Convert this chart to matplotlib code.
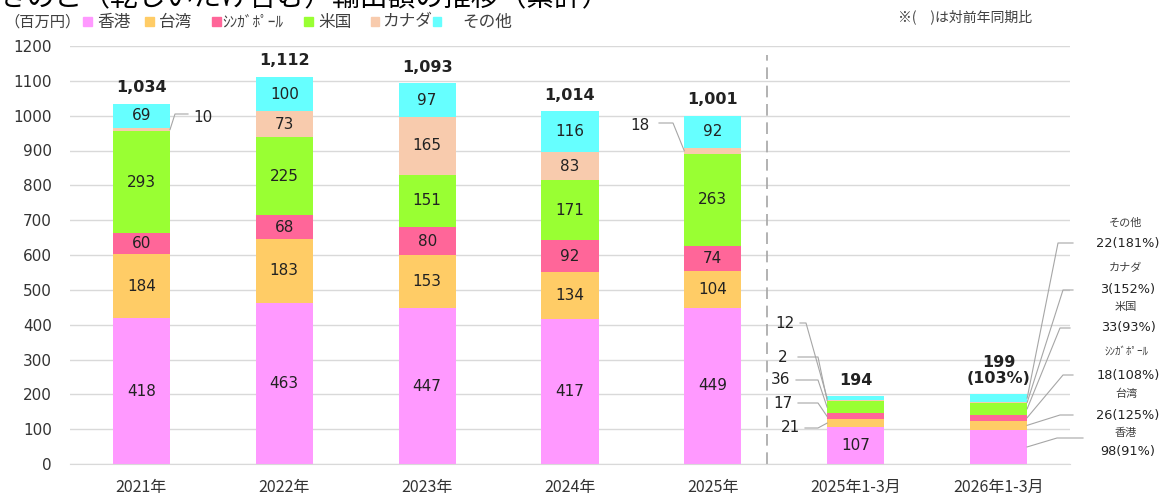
import matplotlib
matplotlib.use("Agg")
import matplotlib.pyplot as plt
from matplotlib.patches import Rectangle

plt.rcParams["font.family"] = ["DejaVu Sans", "Noto Sans CJK JP"]

# ---- data (百万円) ----
categories = ["2021年", "2022年", "2023年", "2024年", "2025年", "2025年1-3月", "2026年1-3月"]
series_names = ["香港", "台湾", "ｼﾝｶﾞﾎﾟｰﾙ", "米国", "カナダ", "その他"]
hongkong = [418, 463, 447, 417, 449, 107, 98]
taiwan = [184, 183, 153, 134, 104, 21, 26]
singapore = [60, 68, 80, 92, 74, 17, 18]
usa = [293, 225, 151, 171, 263, 36, 33]
canada = [10, 73, 165, 83, 18, 2, 3]
others = [69, 100, 97, 116, 92, 12, 22]
totals = [1034, 1112, 1093, 1014, 1001, 194, 199]
total_yoy_last = 103
yoy_last = [91, 125, 108, 93, 152, 181]  # 2026年1-3月, same order as series_names
colors = ["#FF99FF", "#FFCC66", "#FF6699", "#99FF33", "#F8CBAD", "#66FFFF"]

series = [hongkong, taiwan, singapore, usa, canada, others]

W, H = 1164, 496
fig = plt.figure(figsize=(W / 100, H / 100), dpi=100)
AX_L, AX_R, AX_T, AX_B = 70, 1070, 46, 464
ax = fig.add_axes([AX_L / W, 1 - AX_B / H, (AX_R - AX_L) / W, (AX_B - AX_T) / H])

n = len(categories)
ax.set_xlim(-0.5, n - 0.5)
ax.set_ylim(0, 1200)
BAR_W = 0.4


def to_data(x, y):
    """figure-pixel position (from top-left) -> data coordinates"""
    return ((x - AX_L) / ((AX_R - AX_L) / n) - 0.5, (AX_B - y) * 1200 / (AX_B - AX_T))


# gridlines
ax.set_yticks(range(0, 1201, 100))
ax.yaxis.grid(True, color="#D9D9D9", lw=1)
ax.set_axisbelow(True)
for s in ["left", "right", "top"]:
    ax.spines[s].set_visible(False)
ax.spines["bottom"].set_color("#D9D9D9")
ax.tick_params(axis="both", length=0)
ax.tick_params(axis="y", pad=13, labelsize=11, labelcolor="#333333")
ax.set_xticks(range(n))
ax.set_xticklabels(categories, fontsize=11.5, color="#333333", family=["Noto Sans CJK JP"])
ax.tick_params(axis="x", pad=11)

# stacked bars
bottoms = [0] * n
mids = []
for vals, col in zip(series, colors):
    ax.bar(range(n), vals, BAR_W, bottom=bottoms, color=col, edgecolor="none", zorder=2)
    mids.append([b + v / 2 for b, v in zip(bottoms, vals)])
    bottoms = [b + v for b, v in zip(bottoms, vals)]

lead_kw = dict(color="#A6A6A6", lw=0.8, clip_on=False, zorder=3)
num_kw = dict(fontsize=11, color="#222222", ha="center", va="center", zorder=4)

# inside labels for the annual bars and the 2025年1-3月 香港 segment
for s, vals in enumerate(series):
    for i in range(n - 1):
        if vals[i] >= 40:
            ax.text(i, mids[s][i], f"{vals[i]}", **num_kw)

# small カナダ segments of 2021 / 2025
x, y = to_data(203, 117)
ax.text(x, y, f"{canada[0]}", **num_kw)
ex, ey = to_data(175, 114)
ex2, _ = to_data(188, 114)
ax.plot([0 + BAR_W / 2, ex, ex2], [mids[4][0], ey, ey], **lead_kw)

x, y = to_data(640, 125)
ax.text(x, y, f"{canada[4]}", **num_kw)
ex, ey = to_data(673, 123)
ex2, _ = to_data(659, 123)
ax.plot([4 - BAR_W / 2, ex, ex2], [mids[4][4], ey, ey], **lead_kw)

# 2025年1-3月: labels to the left
q = 5
left_pos = {1: (790, 428), 2: (783, 403), 3: (781, 380), 4: (783, 357), 5: (785, 323)}
for s, (px_, py_) in left_pos.items():
    tx, ty = to_data(px_, py_)
    ax.text(tx, ty, f"{series[s][q]}", **num_kw)
    sx, _ = to_data(px_ + 15, py_)
    ex, _ = to_data(818 if s < 5 else 806, py_)
    ax.plot([sx, ex, q - BAR_W / 2], [ty, ty, mids[s][q]], **lead_kw)

# 2026年1-3月: labels to the right with name and yoy
q = 6
val_y = [452, 415, 375, 328, 290, 243]
name_y = [433, 394, 352, 307, 268, 223]
elbows = [(1057, 438, 1083), (1060, 415, 1073), (1063, 375, 1073),
          (1060, 328, 1070), (1063, 290, 1073), (1058, 243, 1073)]
for s in range(len(series)):
    tx, ty = to_data(1128, val_y[s])
    ax.text(tx, ty, f"{series[s][q]}({yoy_last[s]}%)", fontsize=9.3, color="#222222",
            ha="center", va="center", clip_on=False)
    nx, ny = to_data(1126, name_y[s])
    ax.text(nx, ny, series_names[s], fontsize=8, color="#404040", ha="center", va="center",
            family=["Noto Sans CJK JP"], clip_on=False)
    e1x, e1y = to_data(elbows[s][0], elbows[s][1])
    e2x, _ = to_data(elbows[s][2], elbows[s][1])
    ax.plot([q + BAR_W / 2, e1x, e2x], [mids[s][q], e1y, e1y], **lead_kw)

# totals
for i, t in enumerate(totals):
    label = f"{t:,}"
    if i == n - 1:
        label = f"{t:,}\n({total_yoy_last}%)"
    ax.annotate(label, (i, bottoms[i]), xytext=(0, 6), textcoords="offset points",
                ha="center", va="bottom", fontsize=11.5, fontweight="bold", color="#222222",
                linespacing=1.05)

# separator between annual and quarterly bars
sx, _ = to_data(767, 0)
ax.plot([sx, sx], [0, 1175], color="#A6A6A6", lw=1.2, ls=(0, (7, 4)), zorder=1)

# title (runs off the top edge)
fig.text(0, 1 - 6.5 / H, "きのこ（乾しいたけ含む）輸出額の推移（累計）", fontsize=20,
         family=["Noto Sans CJK JP"], color="#000000", ha="left", va="baseline")

# unit and legend row
ly = 1 - 22 / H
fig.text(4 / W, ly, "（百万円）", fontsize=11, color="#404040", ha="left", va="center",
         family=["Noto Sans CJK JP"])
legend_sq = [87, 149, 216, 308, 375, 437]
legend_tx = [97, 159, 222, 318, 382, 462]
for name, col, mx, tx in zip(series_names, colors, legend_sq, legend_tx):
    fig.add_artist(Rectangle(((mx - 4.5) / W, ly - 4.5 / H), 9 / W, 9 / H,
                             transform=fig.transFigure, color=col))
    fig.text(tx / W, ly, name, fontsize=12 if len(name) < 4 else 11, color="#404040",
             ha="left", va="center", family=["Noto Sans CJK JP"])

fig.text(898 / W, 1 - 17 / H, "※(　)は対前年同期比", fontsize=10, color="#404040",
         ha="left", va="center", family=["Noto Sans CJK JP"])

fig.savefig("out.png", dpi=100)
